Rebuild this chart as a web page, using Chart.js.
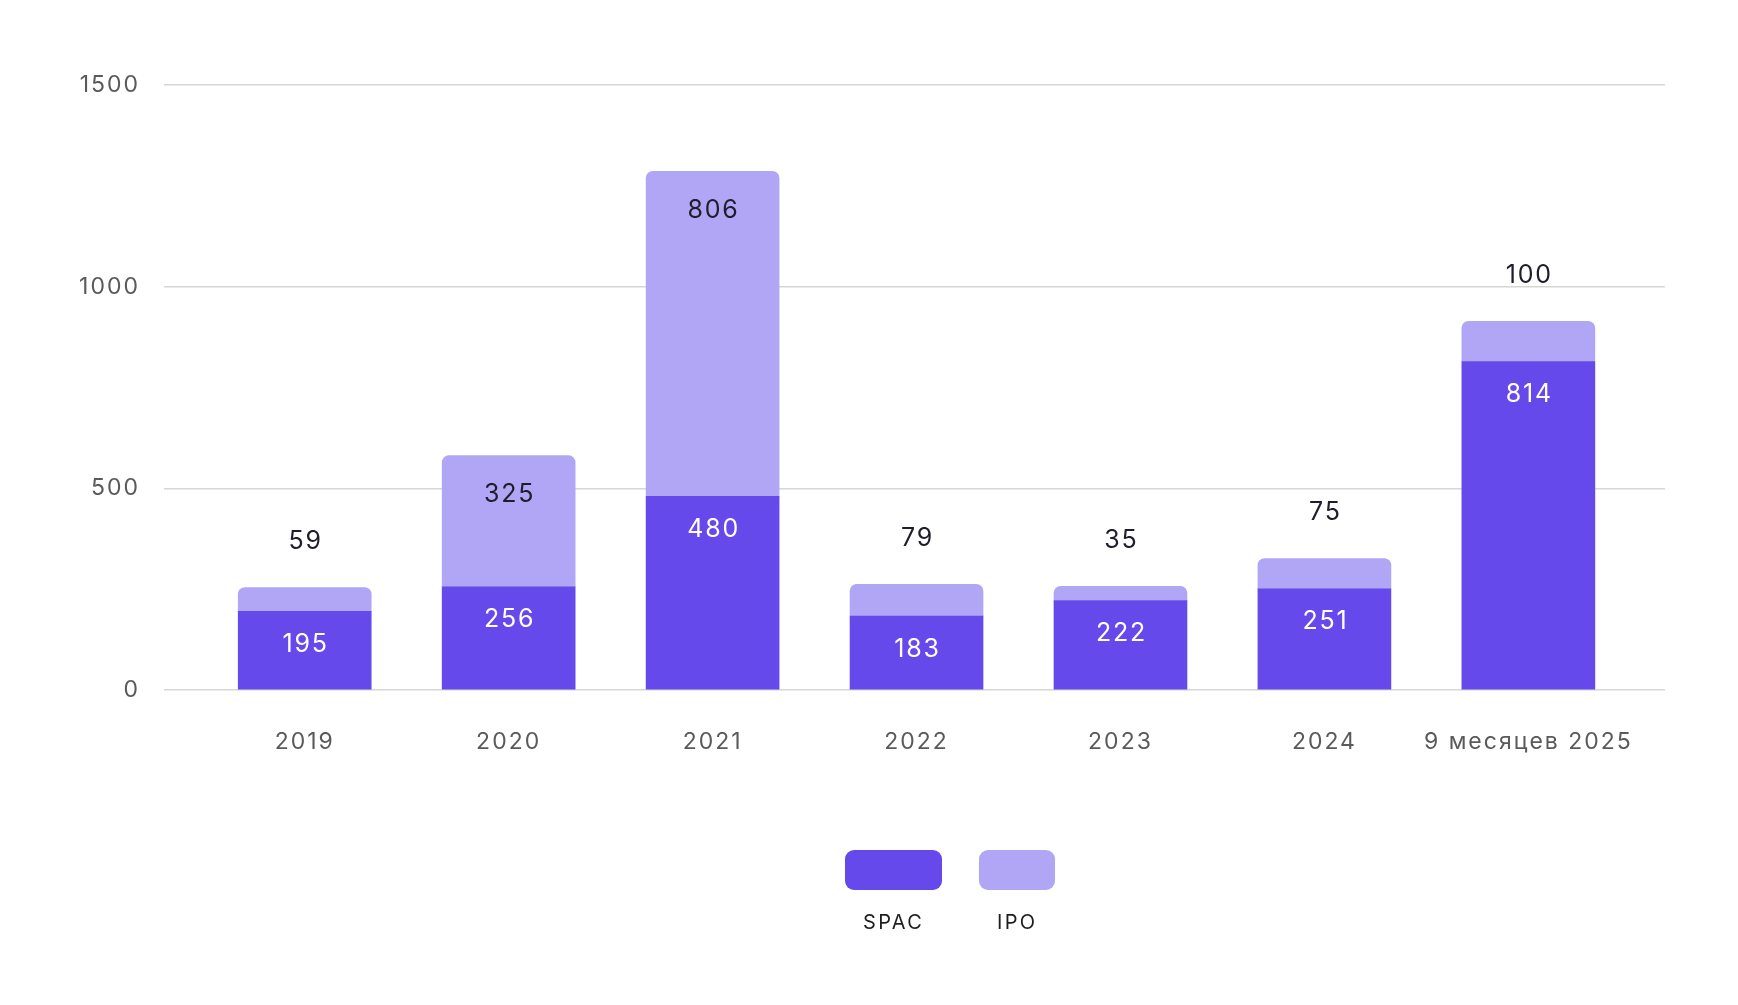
<!DOCTYPE html>
<html>
<head>
<meta charset="utf-8">
<script src="https://cdn.jsdelivr.net/npm/chart.js@4/dist/chart.umd.min.js"></script>
<style>
  html, body { margin: 0; padding: 0; background: #ffffff; }
  #wrap { position: relative; width: 1738px; height: 1005px; }
  #legend {
    position: absolute; left: 845px; top: 850px;
    display: flex; gap: 37px;
    font-family: Inter, "Noto Sans", sans-serif;
  }
  .item { display: flex; flex-direction: column; align-items: stretch; }
  .box { height: 40px; border-radius: 9px; }
  .lab { padding: 0 18px; margin-top: 20px; font-size: 20px; line-height: 24px;
         text-align: center; letter-spacing: 2.3px; color: #1e1e1e; }
</style>
</head>
<body>
<div id="wrap">
  <canvas id="c" width="1738" height="1005"></canvas>
  <div id="legend"></div>
</div>
<script>
const categories = ['2019', '2020', '2021', '2022', '2023', '2024', '9 месяцев 2025'];
const spacValues = [195, 256, 480, 183, 222, 251, 814];
const ipoValues  = [59, 325, 806, 79, 35, 75, 100];
const yTickValues = [0, 500, 1000, 1500];
const seriesNames = ['SPAC', 'IPO'];
const seriesColors = ['#6549ea', '#b0a6f5'];

const FONT = 'Inter, "Noto Sans", sans-serif';

const spacing = {
  id: 'spacing',
  beforeDraw(chart) { chart.ctx.letterSpacing = '2px'; }
};

const valueLabels = {
  id: 'valueLabels',
  afterDatasetsDraw(chart) {
    const ctx = chart.ctx;
    ctx.save();
    ctx.letterSpacing = '1.8px';
    ctx.font = '25px ' + FONT;
    ctx.textAlign = 'center';
    ctx.textBaseline = 'middle';
    const m0 = chart.getDatasetMeta(0);
    const m1 = chart.getDatasetMeta(1);
    m0.data.forEach((el, i) => {
      ctx.fillStyle = '#ffffff';
      ctx.fillText(String(spacValues[i]), el.x + 1, el.y + 33);
    });
    m1.data.forEach((el, i) => {
      const h = el.base - el.y;
      ctx.fillStyle = '#1f1d2b';
      const y = h > 80 ? el.y + 39 : el.y - 46;
      ctx.fillText(String(ipoValues[i]), el.x + 1, y);
    });
    ctx.restore();
  }
};

const chart = new Chart(document.getElementById('c'), {
  type: 'bar',
  data: {
    datasets: [
      {
        label: seriesNames[0],
        data: spacValues.map((v, i) => ({ x: i, y: v })),
        backgroundColor: seriesColors[0],
        barThickness: 133,
        borderRadius: 0
      },
      {
        label: seriesNames[1],
        data: ipoValues.map((v, i) => ({ x: i, y: v })),
        backgroundColor: seriesColors[1],
        barThickness: 133,
        borderRadius: { topLeft: 7, topRight: 7, bottomLeft: 0, bottomRight: 0 }
      }
    ]
  },
  options: {
    responsive: false,
    animation: false,
    layout: { padding: { top: 85, right: 73, left: 0, bottom: 0 } },
    plugins: { legend: { display: false }, tooltip: { enabled: false } },
    scales: {
      x: {
        type: 'linear',
        stacked: true,
        offset: false,
        min: -0.69,
        max: 6.67,
        grid: { display: false, drawTicks: false, offset: false },
        border: { display: false },
        afterBuildTicks: s => { s.ticks = categories.map((_, i) => ({ value: i })); },
        afterFit: s => { s.height = 315; },
        ticks: {
          callback: v => categories[v],
          font: { family: FONT, size: 23 },
          color: '#5a5a5a',
          padding: 38,
          maxRotation: 0,
          autoSkip: false
        }
      },
      y: {
        stacked: true,
        min: 0,
        max: 1500,
        afterBuildTicks: s => { s.ticks = yTickValues.map(v => ({ value: v })); },
        afterFit: s => { s.width = 164; },
        grid: { color: '#d6d6d6', lineWidth: 1.5, drawTicks: false },
        border: { display: false },
        ticks: {
          callback: v => String(v),
          font: { family: FONT, size: 23 },
          color: '#5a5a5a',
          padding: 24
        }
      }
    }
  },
  plugins: [spacing, valueLabels]
});

const legend = document.getElementById('legend');
chart.data.datasets.forEach(ds => {
  const item = document.createElement('div');
  item.className = 'item';
  const box = document.createElement('div');
  box.className = 'box';
  box.style.background = ds.backgroundColor;
  const lab = document.createElement('div');
  lab.className = 'lab';
  lab.textContent = ds.label;
  item.appendChild(box);
  item.appendChild(lab);
  legend.appendChild(item);
});
</script>
</body>
</html>
